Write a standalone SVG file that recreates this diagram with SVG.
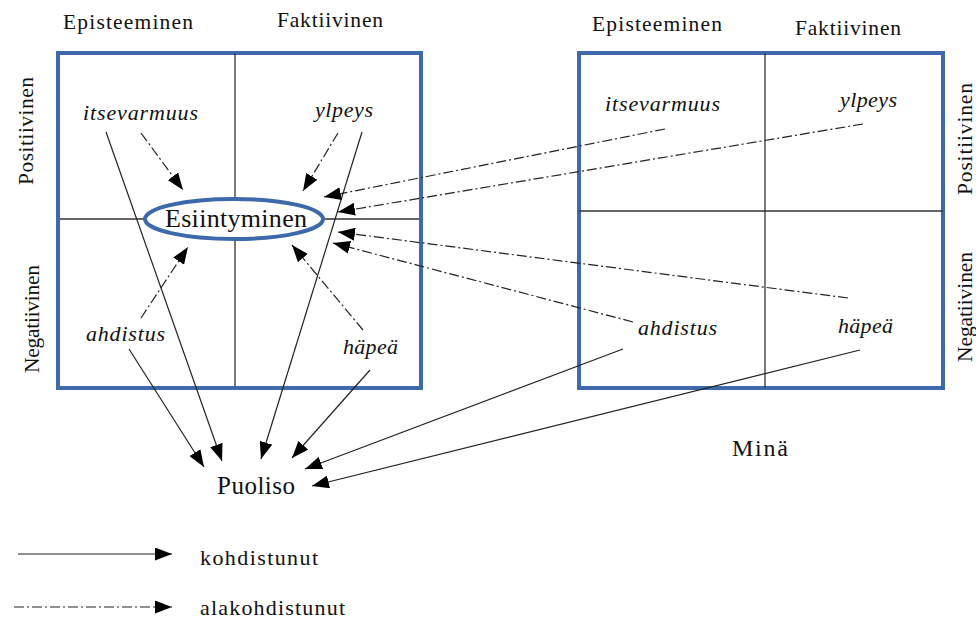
<svg xmlns="http://www.w3.org/2000/svg" width="976" height="619" viewBox="0 0 976 619">
<defs>
<marker id="ah" markerUnits="userSpaceOnUse" markerWidth="18" markerHeight="13" refX="17" refY="6.5" orient="auto">
<path d="M0,0 L17,6.5 L0,13 z" fill="#000"/>
</marker>
<style>
.box{fill:none;stroke:#3e6aab;stroke-width:4}
.div{stroke:#333;stroke-width:1.3;fill:none}
.t{font-family:"Liberation Serif","Times New Roman",serif;fill:#111}
.h{font-size:21.5px}
.i{font-size:22px;font-style:italic}
.s{stroke:#222;stroke-width:1.2;fill:none;marker-end:url(#ah)}
.d{stroke:#222;stroke-width:1.2;fill:none;stroke-dasharray:10 3 2 3;marker-end:url(#ah)}
</style>
</defs>
<rect width="976" height="619" fill="#fff"/>

<g id="box-left">
<rect class="box" x="58" y="53" width="363" height="335"/>
<line class="div" x1="235" y1="53" x2="235" y2="199"/>
<line class="div" x1="235" y1="239" x2="235" y2="386"/>
<line class="div" x1="60" y1="219" x2="145" y2="219"/>
<line class="div" x1="323" y1="219" x2="419" y2="219"/>
<text class="t h" x="63" y="29" textLength="130">Episteeminen</text>
<text class="t h" x="277" y="27" textLength="106">Faktiivinen</text>
<text class="t h" transform="translate(33,131) rotate(-90)" text-anchor="middle" textLength="108">Positiivinen</text>
<text class="t h" transform="translate(39,319) rotate(-90)" text-anchor="middle" textLength="108">Negatiivinen</text>
</g>

<g id="box-right">
<rect class="box" x="579" y="53" width="364" height="335"/>
<line class="div" x1="765" y1="53" x2="765" y2="388"/>
<line class="div" x1="579" y1="211" x2="943" y2="211"/>
<text class="t h" x="592" y="31" textLength="130">Episteeminen</text>
<text class="t h" x="795" y="35" textLength="106">Faktiivinen</text>
<text class="t h" transform="translate(972,139) rotate(-90)" text-anchor="middle" textLength="112">Positiivinen</text>
<text class="t h" transform="translate(972,307) rotate(-90)" text-anchor="middle" textLength="110">Negatiivinen</text>
</g>

<g id="esiintyminen">
<ellipse cx="234" cy="219" rx="89" ry="20" fill="#fff" stroke="#3e6aab" stroke-width="4"/>
<text class="t" x="165" y="227" font-size="26" textLength="142">Esiintyminen</text>
</g>

<g id="l-itsevarmuus"><text class="t i" x="83" y="120" textLength="115">itsevarmuus</text></g>
<g id="l-ylpeys"><text class="t i" x="315" y="117" textLength="58">ylpeys</text></g>
<g id="l-ahdistus"><text class="t i" x="86" y="341" textLength="79">ahdistus</text></g>
<g id="l-hapea"><text class="t i" x="343" y="354" textLength="55">häpeä</text></g>

<g id="r-itsevarmuus"><text class="t i" x="605" y="111" textLength="115">itsevarmuus</text></g>
<g id="r-ylpeys"><text class="t i" x="840" y="107" textLength="57">ylpeys</text></g>
<g id="r-ahdistus"><text class="t i" x="638" y="335" textLength="79">ahdistus</text></g>
<g id="r-hapea"><text class="t i" x="838" y="333" textLength="55">häpeä</text></g>

<g id="puoliso"><text class="t" x="217" y="494" font-size="25" textLength="78">Puoliso</text></g>
<g id="mina"><text class="t" x="732" y="456" font-size="24" textLength="56">Minä</text></g>

<g id="connectors">
<line class="d" x1="141" y1="133" x2="183" y2="190"/>
<line class="d" x1="338" y1="133" x2="303" y2="191"/>
<line class="s" x1="106" y1="132" x2="222" y2="461"/>
<line class="s" x1="362" y1="132" x2="261" y2="459"/>
<line class="d" x1="141" y1="318" x2="188" y2="247"/>
<line class="d" x1="363" y1="330" x2="292" y2="245"/>
<line class="s" x1="129" y1="349" x2="204" y2="467"/>
<line class="s" x1="370" y1="370" x2="292" y2="458"/>
<line class="s" x1="623" y1="349" x2="305" y2="469"/>
<line class="s" x1="860" y1="350" x2="312" y2="486"/>
<line class="d" x1="665" y1="129" x2="324" y2="197"/>
<line class="d" x1="863" y1="124" x2="338" y2="212"/>
<line class="d" x1="848" y1="298" x2="338" y2="232"/>
<line class="d" x1="633" y1="322" x2="333" y2="243"/>
</g>

<g id="legend">
<line class="s" x1="18" y1="554" x2="172" y2="554"/>
<text class="t" x="200" y="565" font-size="22" textLength="118">kohdistunut</text>
<line class="d" x1="14" y1="607" x2="172" y2="607"/>
<text class="t" x="200" y="615" font-size="22" textLength="145">alakohdistunut</text>
</g>
</svg>
